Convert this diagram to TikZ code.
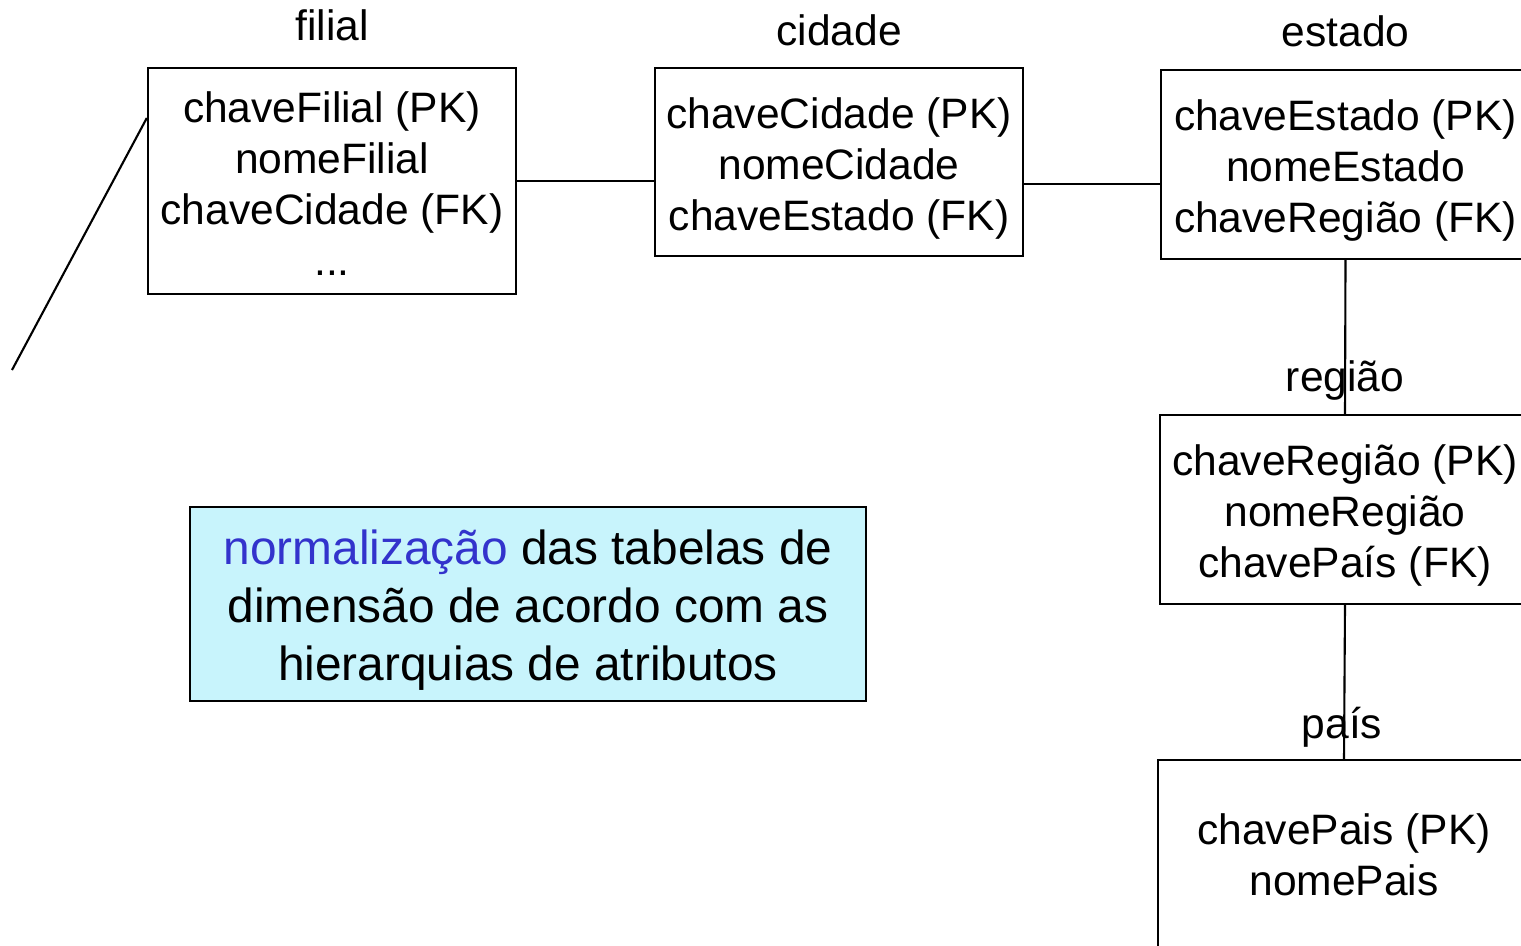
\documentclass[tikz,border=0pt]{standalone}
\usepackage{fontspec}
\setmainfont{Liberation Sans}
\usetikzlibrary{positioning}
\definecolor{notafundo}{RGB}{200,244,252}
\definecolor{notaazul}{RGB}{51,51,204}
\newcommand{\topo}[1]{\rule{0pt}{#1}}

\begin{document}
\begin{tikzpicture}[x=0.01cm,y=-0.01cm]
		\tikzstyle{every node}+=[inner sep=0pt]
		\tikzstyle{tabela}=[draw=black,line width=0.6pt,align=center,font=\fontsize{12.1}{14.5}\selectfont,minimum width=3.69cm,minimum height=1.89cm]
		\tikzstyle{titulo}=[font=\fontsize{12.1}{14.5}\selectfont]
		\tikzstyle{liga}=[black,line width=0.6pt]
		\tikzstyle{nota}=[draw=black,line width=0.6pt,fill=notafundo,align=center,font=\fontsize{13.6}{16.4}\selectfont,minimum width=6.76cm,minimum height=1.94cm]
		\useasboundingbox (0,0) rectangle (1521,945);
		\clip (0,0) rectangle (1521,945);
		% tabelas
		\node [tabela,minimum width=3.68cm,minimum height=2.26cm] (filial) at (332,181) {\topo{10pt}chaveFilial (PK)\\nomeFilial\\chaveCidade (FK)\\...};
		\node [tabela,minimum width=3.68cm,minimum height=1.88cm] (cidade) at (839,162) {\topo{12.2pt}chaveCidade (PK)\\nomeCidade\\chaveEstado (FK)};
		\node [tabela] (estado) at (1345.5,164.5) {\topo{12.2pt}chaveEstado (PK)\\nomeEstado\\chaveRegião (FK)};
		\node [tabela,minimum width=3.70cm] (regiao) at (1345,509.5) {\topo{12pt}chaveRegião (PK)\\nomeRegião\\chavePaís (FK)};
		\node [tabela,minimum width=3.72cm,minimum height=1.90cm] (pais) at (1344,855) {chavePais (PK)\\nomePais};
		% titulos
		\node [titulo,above=0.26cm of filial,anchor=base] (tfilial) {filial};
		\node [titulo,above=0.21cm of cidade,anchor=base] (tcidade) {cidade};
		\node [titulo,above=0.22cm of estado,anchor=base] (testado) {estado};
		\node [titulo,above=0.22cm of regiao,anchor=base] (tregiao) {região};
		\node [titulo,above=0.20cm of pais,anchor=base,xshift=-0.02cm] (tpais) {país};
		% nota
		\node [nota] (nt) at (528,604) {\topo{13.3pt}\textcolor{notaazul}{normalização} das tabelas de\\dimensão de acordo com as\\hierarquias de atributos};
		% ligacoes
		\coordinate (c1) at ([yshift=-0.22cm]cidade.east);
		\coordinate (solta) at (12,370);
		\draw [liga] (filial.east) -- (filial.east -| cidade.west);
		\draw [liga] (c1) -- (c1 -| estado.west);
		\draw [liga] (estado.south) -- (regiao.north);
		\draw [liga] (regiao.south) -- (pais.north);
		\draw [liga] ([yshift=0.63cm]filial.west) -- (solta);
	\end{tikzpicture}
\end{document}
